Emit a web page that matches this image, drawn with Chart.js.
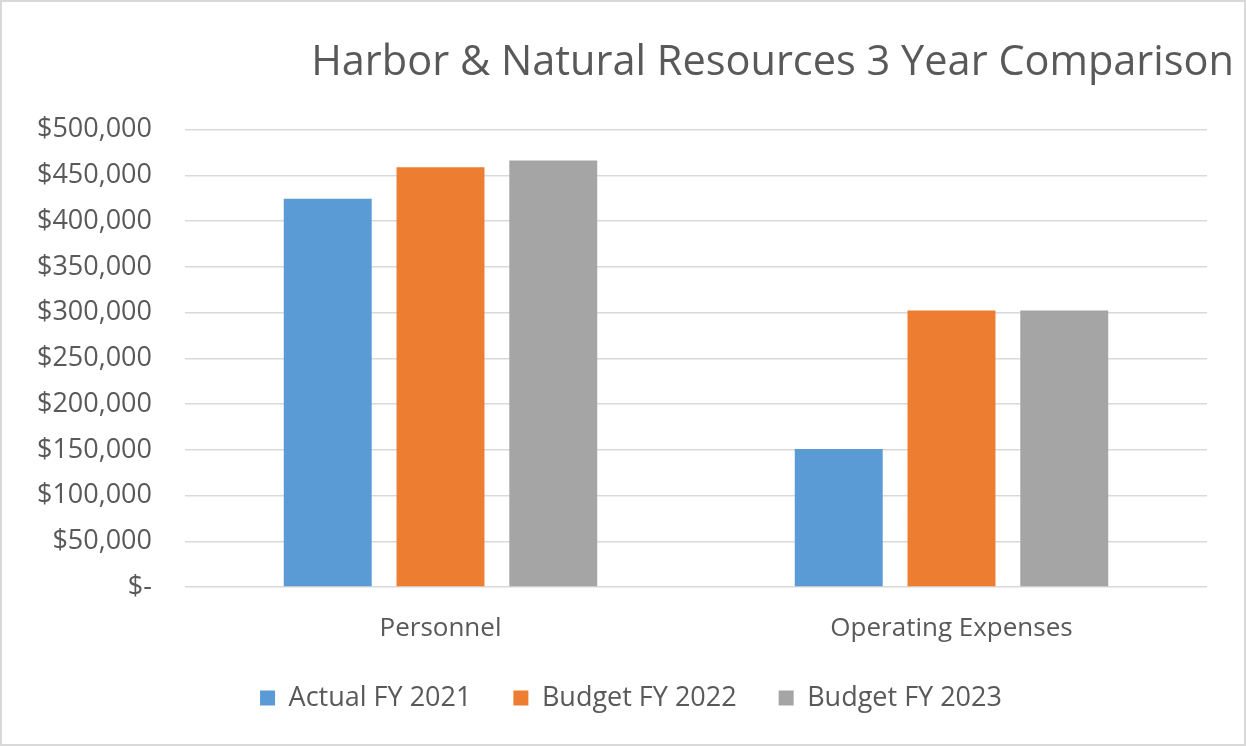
<!DOCTYPE html>
<html>
<head>
<meta charset="utf-8">
<script src="https://cdn.jsdelivr.net/npm/chart.js@4/dist/chart.umd.min.js"></script>
<style>
  html, body { margin: 0; padding: 0; background: #ffffff; }
  #frame { width: 1242px; height: 742px; border: 2px solid #d9d9d9; position: relative; }
  canvas { display: block; }
</style>
</head>
<body>
<div id="frame"><canvas id="chart" width="1242" height="742"></canvas></div>
<script>
// Chart content
const chartTitle = 'Harbor & Natural Resources 3 Year Comparison';
const categories = ['Personnel', 'Operating Expenses'];
const seriesNames = ['Actual FY 2021', 'Budget FY 2022', 'Budget FY 2023'];
const actualFY2021 = [424500, 151000];
const budgetFY2022 = [459000, 302500];
const budgetFY2023 = [466500, 302500];
const yTickMin = 0;
const yTickMax = 500000;
const yTickStep = 50000;

const seriesColors = ['#5B9BD5', '#ED7D31', '#A5A5A5'];
const textColor = '#595959';
const gridColor = '#D9D9D9';
const fontFamily = '"Open Sans", "Noto Sans", sans-serif';

function formatDollars(v) {
  if (v === 0) return '$-';
  return '$' + v.toLocaleString('en-US');
}

const seriesValues = [actualFY2021, budgetFY2022, budgetFY2023];

// Shift the legend row a little to the right of the canvas centre
const legendNudge = {
  id: 'legendNudge',
  afterLayout(chart) {
    const lg = chart.legend;
    if (lg) { lg.left += 13; lg.right += 13; }
  }
};

new Chart(document.getElementById('chart'), {
  type: 'bar',
  data: {
    labels: categories,
    datasets: seriesValues.map((vals, i) => ({
      label: seriesNames[i],
      data: vals,
      backgroundColor: seriesColors[i],
      borderWidth: 0,
      categoryPercentage: 0.662,
      barPercentage: 0.78
    }))
  },
  plugins: [legendNudge],
  options: {
    responsive: false,
    animation: false,
    layout: { padding: { left: 0, right: 10, top: 0, bottom: 22.5 } },
    plugins: {
      title: {
        display: true,
        text: chartTitle,
        align: 'end',
        color: textColor,
        font: { family: fontFamily, size: 41.5, weight: 'normal' },
        padding: { top: 36, bottom: 42 }
      },
      legend: {
        position: 'bottom',
        labels: {
          color: textColor,
          font: { family: fontFamily, size: 27 },
          boxWidth: 15,
          boxHeight: 15,
          padding: 42
        }
      },
      tooltip: { enabled: false }
    },
    scales: {
      x: {
        // fixed band height; mirrored ticks keep the labels from being clipped to it
        afterFit: (scale) => { scale.height = 55.5; },
        grid: { display: false, drawTicks: false },
        border: { display: false },
        ticks: {
          mirror: true,
          color: textColor,
          font: { family: fontFamily, size: 26 },
          padding: -57.5
        }
      },
      y: {
        min: yTickMin,
        max: yTickMax,
        afterFit: (scale) => { scale.width = 183; },
        grid: { color: gridColor, lineWidth: 1.5, drawTicks: false },
        border: { display: false },
        ticks: {
          stepSize: yTickStep,
          color: textColor,
          font: { family: fontFamily, size: 27 },
          padding: 33,
          callback: (v) => formatDollars(v)
        }
      },
      // empty spacer on the right so the plot stops short of the title's right edge
      yRight: {
        position: 'right',
        min: yTickMin,
        max: yTickMax,
        afterFit: (scale) => { scale.width = 27; },
        grid: { display: false, drawTicks: false },
        border: { display: false },
        ticks: { display: false }
      }
    }
  }
});
</script>
</body>
</html>
